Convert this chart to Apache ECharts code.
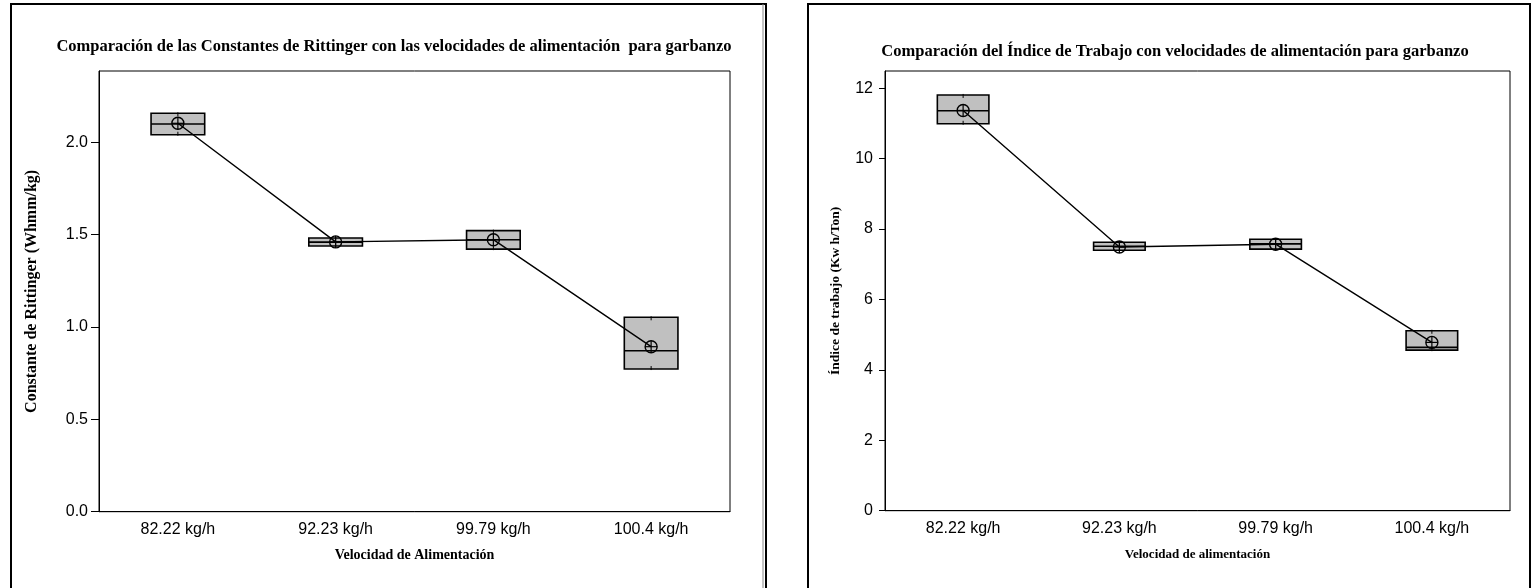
<!DOCTYPE html>
<html>
<head>
<meta charset="utf-8">
<script src="https://cdn.jsdelivr.net/npm/echarts@6/dist/echarts.min.js"></script>
<style>
html,body{margin:0;padding:0;background:#fff;}
#chart{width:1533px;height:588px;}
</style>
</head>
<body>
<div id="chart"></div>
<script>
// ---- data ----
const categories = ['82.22 kg/h', '92.23 kg/h', '99.79 kg/h', '100.4 kg/h'];

// Left: Constante de Rittinger
const rittQ1     = [2.040, 1.438, 1.421, 0.772];
const rittMedian = [2.098, 1.459, 1.472, 0.871];
const rittQ3     = [2.156, 1.481, 1.521, 1.052];
const rittMean   = [2.102, 1.460, 1.472, 0.893];
const rittTicks  = [0, 0.5, 1.0, 1.5, 2.0];

// Right: Índice de trabajo
const indQ1     = [10.99, 7.40, 7.43, 4.56];
const indMedian = [11.36, 7.51, 7.58, 4.64];
const indQ3     = [11.81, 7.625, 7.71, 5.11];
const indMean   = [11.37, 7.49, 7.57, 4.78];
const indTicks  = [0, 2, 4, 6, 8, 10, 12];

// ---- helpers ----
function boxData(q1, med, q3) {
  return categories.map((c, i) => [i, q1[i], med[i], q3[i]]);
}
function meanData(mean) {
  return categories.map((c, i) => [i, mean[i]]);
}
function makeBoxRender(frac) {
  return function (params, api) {
    const x = api.value(0);
    const pT = api.coord([x, api.value(3)]);
    const pB = api.coord([x, api.value(1)]);
    const pM = api.coord([x, api.value(2)]);
    const bw = api.size([1, 0])[0] * frac;
    const l = pT[0] - bw / 2;
    return {
      type: 'group',
      children: [
        { type: 'rect', shape: { x: l, y: pT[1], width: bw, height: pB[1] - pT[1] },
          style: { fill: '#c0c0c0', stroke: '#000', lineWidth: 1.6 } },
        { type: 'line', shape: { x1: l, y1: pM[1], x2: l + bw, y2: pM[1] },
          style: { stroke: '#000', lineWidth: 1.6 } },
        { type: 'line', shape: { x1: pT[0], y1: pT[1] - 1, x2: pT[0], y2: pT[1] + 3 },
          style: { stroke: '#000', lineWidth: 1 } },
        { type: 'line', shape: { x1: pB[0], y1: pB[1] - 3, x2: pB[0], y2: pB[1] + 1 },
          style: { stroke: '#000', lineWidth: 1 } }
      ]
    };
  };
}
function renderMean(params, api) {
  const p = api.coord([api.value(0), api.value(1)]);
  const r = 6;
  return {
    type: 'group',
    children: [
      { type: 'circle', shape: { cx: p[0], cy: p[1], r: r },
        style: { fill: 'none', stroke: '#000', lineWidth: 1.4 } },
      { type: 'line', shape: { x1: p[0] - r, y1: p[1], x2: p[0] + r, y2: p[1] },
        style: { stroke: '#000', lineWidth: 1.2 } },
      { type: 'line', shape: { x1: p[0], y1: p[1] - r, x2: p[0], y2: p[1] + r },
        style: { stroke: '#000', lineWidth: 1.2 } }
    ]
  };
}

const serif = '"Liberation Serif", "Times New Roman", serif';
const sans = '"Liberation Sans", Arial, sans-serif';

function xAxisDef(gridIndex, name, nameSize, labelSize) {
  return {
    type: 'category', gridIndex: gridIndex, data: categories, boundaryGap: true,
    name: name, nameLocation: 'middle', nameGap: 37,
    nameTextStyle: { fontFamily: serif, fontWeight: 'bold', fontSize: nameSize, color: '#000' },
    axisLine: { lineStyle: { color: '#000', width: 1 } },
    axisTick: { alignWithLabel: true, length: 5, lineStyle: { color: '#000' } },
    axisLabel: { color: '#000', fontFamily: sans, fontSize: labelSize, margin: 10 },
    splitLine: { show: false }
  };
}

const chart = echarts.init(document.getElementById('chart'), null, { renderer: 'canvas' });
chart.setOption({
  backgroundColor: '#fff',
  animation: false,
  title: [
    { text: 'Comparación de las Constantes de Rittinger con las velocidades de alimentación  para garbanzo',
      left: 389, top: 33, textAlign: 'center',
      textStyle: { fontFamily: serif, fontWeight: 'bold', fontSize: 16.5, color: '#000' } },
    { text: 'Comparación del Índice de Trabajo con velocidades de alimentación para garbanzo',
      left: 1170, top: 38, textAlign: 'center',
      textStyle: { fontFamily: serif, fontWeight: 'bold', fontSize: 16.5, color: '#000' } }
  ],
  graphic: [
    { type: 'rect', shape: { x: 11, y: 4, width: 755, height: 592 },
      style: { fill: 'none', stroke: '#000', lineWidth: 2 }, silent: true },
    { type: 'line', shape: { x1: 763, y1: 4, x2: 763, y2: 588 },
      style: { stroke: '#888', lineWidth: 1 }, silent: true },
    { type: 'rect', shape: { x: 808, y: 4, width: 722, height: 592 },
      style: { fill: 'none', stroke: '#000', lineWidth: 2 }, silent: true }
  ],
  grid: [
    { left: 99, top: 71, width: 631, height: 440.7, show: true, borderColor: '#000', borderWidth: 1, backgroundColor: 'transparent' },
    { left: 885, top: 71, width: 625, height: 439.7, show: true, borderColor: '#000', borderWidth: 1, backgroundColor: 'transparent' }
  ],
  xAxis: [
    xAxisDef(0, 'Velocidad de Alimentación', 14, 16),
    xAxisDef(1, 'Velocidad de alimentación', 13, 16)
  ],
  yAxis: [
    { type: 'value', gridIndex: 0, min: 0, max: 2.385,
      name: 'Constante de Rittinger (Whmm/kg)', nameLocation: 'middle', nameGap: 59,
      nameTextStyle: { fontFamily: serif, fontWeight: 'bold', fontSize: 16, color: '#000' },
      axisLine: { show: true, lineStyle: { color: '#000' } },
      axisTick: { show: true, length: 8, customValues: rittTicks, lineStyle: { color: '#000' } },
      axisLabel: { color: '#000', fontFamily: sans, fontSize: 16, margin: 11, customValues: rittTicks,
        formatter: v => v.toFixed(1) },
      splitLine: { show: false } },
    { type: 'value', gridIndex: 1, min: 0, max: 12.49,
      name: 'Índice de trabajo (Kw h/Ton)', nameLocation: 'middle', nameGap: 42,
      nameTextStyle: { fontFamily: serif, fontWeight: 'bold', fontSize: 13.5, color: '#000' },
      axisLine: { show: true, lineStyle: { color: '#000' } },
      axisTick: { show: true, length: 6, customValues: indTicks, lineStyle: { color: '#000' } },
      axisLabel: { color: '#000', fontFamily: sans, fontSize: 16, margin: 12, customValues: indTicks,
        formatter: v => String(v) },
      splitLine: { show: false } }
  ],
  series: [
    { type: 'custom', xAxisIndex: 0, yAxisIndex: 0, renderItem: makeBoxRender(0.34),
      data: boxData(rittQ1, rittMedian, rittQ3), encode: { x: 0, y: [1, 2, 3] }, z: 2 },
    { type: 'line', xAxisIndex: 0, yAxisIndex: 0, data: rittMean, symbol: 'none',
      lineStyle: { color: '#000', width: 1.4 }, z: 3 },
    { type: 'custom', xAxisIndex: 0, yAxisIndex: 0, renderItem: renderMean,
      data: meanData(rittMean), encode: { x: 0, y: 1 }, z: 4 },

    { type: 'custom', xAxisIndex: 1, yAxisIndex: 1, renderItem: makeBoxRender(0.33),
      data: boxData(indQ1, indMedian, indQ3), encode: { x: 0, y: [1, 2, 3] }, z: 2 },
    { type: 'line', xAxisIndex: 1, yAxisIndex: 1, data: indMean, symbol: 'none',
      lineStyle: { color: '#000', width: 1.4 }, z: 3 },
    { type: 'custom', xAxisIndex: 1, yAxisIndex: 1, renderItem: renderMean,
      data: meanData(indMean), encode: { x: 0, y: 1 }, z: 4 }
  ]
});
</script>
</body>
</html>
